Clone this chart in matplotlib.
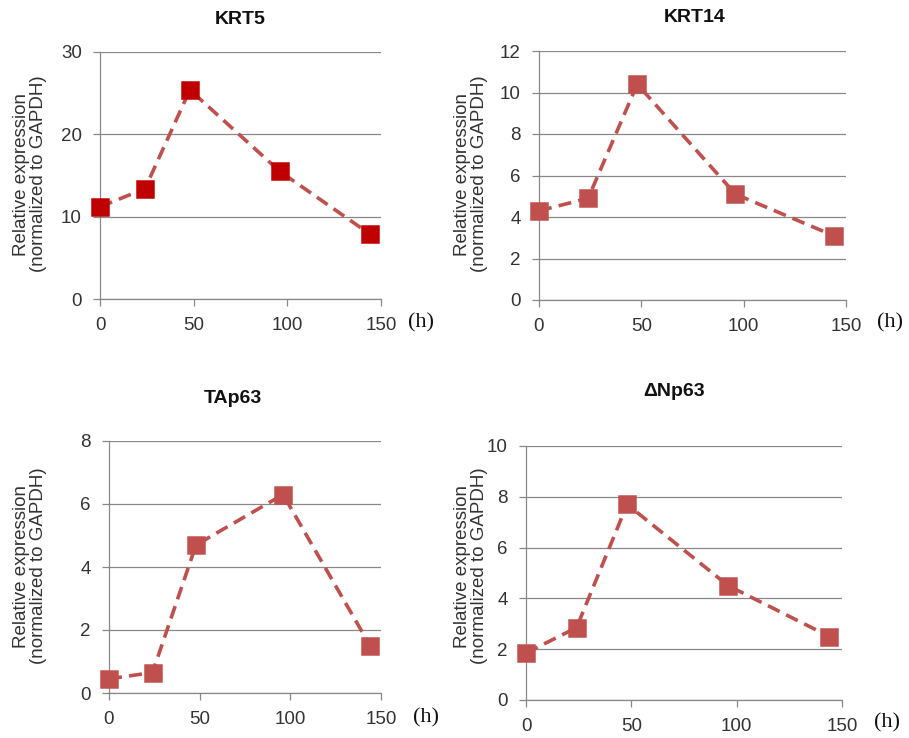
import matplotlib
matplotlib.use("Agg")
import matplotlib.pyplot as plt

plt.rcParams['font.family'] = ['Liberation Sans', 'DejaVu Sans']

# time points (h)
hours = [0, 24, 48, 96, 144]

# relative expression values
krt5 = [11.2, 13.4, 25.4, 15.5, 7.9]
krt14 = [4.3, 4.9, 10.4, 5.1, 3.1]
tap63 = [0.45, 0.65, 4.7, 6.3, 1.5]
dnp63 = [1.85, 2.85, 7.7, 4.5, 2.5]

titles = ['KRT5', 'KRT14', 'TAp63', 'ΔNp63']
ymax = [30, 12, 8, 10]
ystep = [10, 2, 2, 2]
xticks = [0, 50, 100, 150]

W, H = 909, 738
fig = plt.figure(figsize=(W / 100, H / 100), dpi=100)

# axes boxes in pixels: left, right, top, bottom
boxes = [(100, 381, 52, 299), (539, 846, 51, 300),
         (109, 381, 441, 693), (526, 842, 446, 700)]
title_pos = [(240, 19), (695, 18), (233, 398), (674, 391)]
ylab_pos = [(30, 174), (471, 174), (30, 566), (471, 566)]
h_pos = [(421, 323), (890, 323), (426, 718), (887, 723)]
marker_cols = ['#C00000', '#C0504D', '#C0504D', '#C0504D']

line_col = '#C0504D'
grid_col = '#888888'
text_col = '#333333'

for k, vals in enumerate([krt5, krt14, tap63, dnp63]):
    l, r, t, b = boxes[k]
    ax = fig.add_axes([l / W, 1 - b / H, (r - l) / W, (b - t) / H])
    ax.plot(hours, vals, color=line_col, lw=2.6, dashes=(3.6, 2.0),
            marker='s', ms=11.5, mfc=marker_cols[k], mec=marker_cols[k],
            mew=1.8, clip_on=False, zorder=3)
    ax.set_xlim(0, 150)
    ax.set_ylim(0, ymax[k])
    ax.set_xticks(xticks)
    ax.set_yticks(range(0, ymax[k] + 1, ystep[k]))
    ax.grid(axis='y', color=grid_col, lw=0.9)
    ax.set_axisbelow(True)
    for s in ['top', 'right']:
        ax.spines[s].set_visible(False)
    for s in ['left', 'bottom']:
        ax.spines[s].set_color(grid_col)
        ax.spines[s].set_linewidth(0.9)
    ax.tick_params(axis='both', colors=grid_col, labelcolor=text_col,
                   labelsize=13.5, length=5, width=0.9)
    ax.tick_params(axis='x', pad=8)
    ax.tick_params(axis='y', pad=8)

    tx, ty = title_pos[k]
    fig.text(tx / W, 1 - ty / H, titles[k], ha='center', va='center',
             fontsize=14, fontweight='bold', color='#111111')
    lx, ly = ylab_pos[k]
    fig.text(lx / W, 1 - ly / H, 'Relative expression\n(normalized to GAPDH)',
             rotation=90, ha='center', va='center', multialignment='center',
             fontsize=13.5, color=text_col, linespacing=1.0)
    hx, hy = h_pos[k]
    fig.text(hx / W, 1 - hy / H, '(h)', ha='center', va='center',
             fontsize=16, family='Liberation Serif', color='#111111')

fig.savefig('out.png', dpi=100, facecolor='white')
